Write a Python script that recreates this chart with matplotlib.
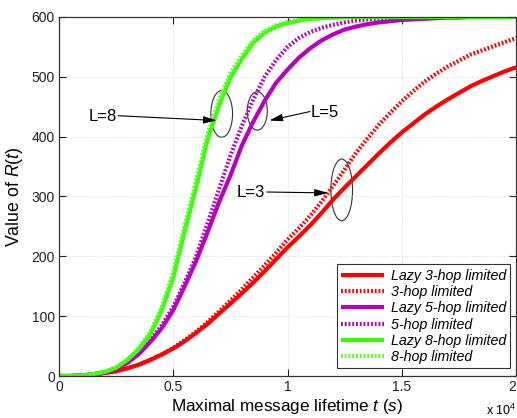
import numpy as np
import matplotlib
matplotlib.use("Agg")
import matplotlib.pyplot as plt
from matplotlib.patches import Ellipse

plt.rcParams['font.family'] = ['Liberation Sans', 'DejaVu Sans']
plt.rcParams['mathtext.fontset'] = 'custom'
plt.rcParams['mathtext.rm'] = 'Liberation Sans'
plt.rcParams['mathtext.it'] = 'Liberation Sans:italic'

# time axis (seconds)
t = np.arange(0, 20001, 500)

lazy3 = [0, 0, 1, 2, 5, 8, 13, 19, 27, 36, 46, 58, 72, 87, 104, 121, 138, 156, 175, 195,
         215, 233, 252, 273, 295, 315, 334, 353, 372, 390, 407, 422, 437, 450, 462, 473,
         484, 493, 501, 509, 516]
hop3 = [0, 0, 1, 2, 5, 8, 13, 19, 27, 36, 47, 60, 74, 90, 108, 126, 145, 165, 185, 206,
        228, 247, 268, 292, 318, 345, 373, 397, 420, 440, 459, 476, 492, 505, 517, 527,
        537, 544, 551, 558, 565]
lazy5 = [0, 0, 1, 3, 6, 12, 22, 37, 57, 80, 110, 150, 192, 240, 290, 335, 385, 425, 460, 490,
         512, 532, 548, 561, 571, 579, 584, 588, 591, 593, 595, 596, 597, 598, 599, 599,
         600, 600, 600, 600, 600]
hop5 = [0, 0, 1, 3, 6, 12, 23, 39, 60, 85, 116, 156, 200, 255, 312, 368, 418, 462, 500, 528,
        550, 565, 575, 582, 587, 591, 594, 596, 597, 598, 598, 599, 599, 600, 600, 600,
        600, 600, 600, 600, 600]
lazy8 = [0, 0, 1, 3, 7, 14, 27, 45, 70, 110, 165, 242, 315, 395, 452, 499, 530, 557, 574, 584,
         590, 594, 597, 598, 599, 600, 600, 600, 600, 600, 600, 600, 600, 600, 600, 600,
         600, 600, 600, 600, 600]
hop8 = [0, 0, 1, 3, 7, 14, 28, 47, 74, 116, 173, 252, 327, 405, 461, 506, 536, 561, 577, 586,
        592, 595, 597, 599, 599, 600, 600, 600, 600, 600, 600, 600, 600, 600, 600, 600,
        600, 600, 600, 600, 600]

labels = ['Lazy 3-hop limited', '3-hop limited', 'Lazy 5-hop limited',
          '5-hop limited', 'Lazy 8-hop limited', '8-hop limited']
xticks = [0, 5000, 10000, 15000, 20000]
xticklabels = ['0', '0.5', '1', '1.5', '2']
yticks = [0, 100, 200, 300, 400, 500, 600]

red = '#ff0000'
purple = '#b800c0'
green = '#33ff00'
green_d = '#55ff22'

fig = plt.figure(figsize=(5.17, 4.18), dpi=100)
ax = fig.add_axes([59/517, 42/418, 457/517, 359/418])

dot = (0, (0.45, 0.45))
lw = 3.0
series = [(lazy3, red, '-'), (hop3, red, dot), (lazy5, purple, '-'),
          (hop5, purple, dot), (lazy8, green, '-'), (hop8, green_d, dot)]
for (vals, c, ls), lab in zip(series, labels):
    ax.plot(t, vals, color=c, linestyle=ls, lw=lw, label=lab, solid_capstyle='butt',
            dash_capstyle='butt')

ax.set_xlim(0, 20000)
ax.set_ylim(0, 600)
ax.set_xticks(xticks)
ax.set_xticklabels(xticklabels)
ax.set_yticks(yticks)
ax.tick_params(direction='in', length=5, width=0.8, top=True, right=True,
               labelsize=10, pad=3, colors='#222222')
ax.get_xticklabels()[-1].set_horizontalalignment('right')
ax.grid(True, linestyle=(0, (1, 2)), color='#cccccc', lw=0.6)
for s in ax.spines.values():
    s.set_linewidth(0.9)
    s.set_color('#333333')

ax.set_xlabel('Maximal message lifetime $t\\ (s)$', fontsize=12.3, labelpad=2)
ax.set_ylabel('Value of $R(t)$', fontsize=12.8, labelpad=5)
fig.text(486/517, 1 - 415/418, 'x 10$^4$', fontsize=9, ha='left', va='baseline')

# annotations
def ell(cx, cy, w, h):
    ax.add_patch(Ellipse((cx, cy), w, h, fill=False, edgecolor='#333333', lw=0.8))

ell(7120, 438, 950, 78)
ell(8678, 443, 875, 64)
ell(12372, 311, 950, 103)

ap = dict(arrowstyle='-|>,head_length=0.8,head_width=0.22', lw=0.8, color='k',
          shrinkA=0, shrinkB=0)
ax.annotate('', xy=(6902, 427), xytext=(2582, 435), arrowprops=ap)
ax.annotate('', xy=(9204, 427), xytext=(10985, 442), arrowprops=ap)
ax.annotate('', xy=(11772, 306), xytext=(9090, 307.5), arrowprops=ap)
ax.text(2540, 433, 'L=8', fontsize=12, ha='right', va='center')
ax.text(11030, 441, 'L=5', fontsize=12, ha='left', va='center')
ax.text(9015, 307.5, 'L=3', fontsize=12, ha='right', va='center')

leg = ax.legend(loc='lower right', bbox_to_anchor=(0.987, 0.021), borderaxespad=0,
                prop={'style': 'italic', 'size': 10.3}, handlelength=3.0,
                handletextpad=0.45, labelspacing=0.16, borderpad=0.3,
                fancybox=False, framealpha=1, edgecolor='#333333')
leg.get_frame().set_linewidth(0.8)

fig.savefig('out.png', dpi=100)
